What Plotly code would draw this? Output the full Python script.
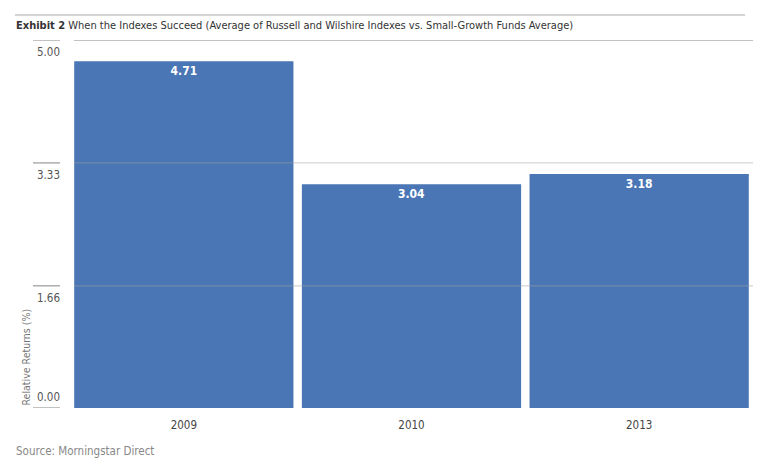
import plotly.graph_objects as go

years = ["2009", "2010", "2013"]
values = [4.71, 3.04, 3.18]
tick_vals = [0.0, 1.66, 3.33, 5.00]
tick_text = ["0.00", "1.66", "3.33", "5.00"]

FONT = "DejaVu Sans Condensed, Liberation Sans Narrow, Roboto, sans-serif"
BAR = "#4a76b5"

# page has an 8px body margin; figure is sized/offset to compensate
W, H = 759, 465
L, R, T, B = 62, 14, 32, 65
PW, PH = W - L - R, H - T - B


def px(xf):
    return (xf - L) / PW


def py(yf):
    return (H - B - yf) / PH


fig = go.Figure()
fig.add_trace(go.Bar(
    x=years, y=values, marker=dict(color=BAR, line=dict(width=0)),
    text=[f"{v:.2f}" for v in values], textposition="inside",
    insidetextanchor="end",
    textfont=dict(family=FONT, size=12, color="white", weight="bold"),
    hoverinfo="skip",
))

shapes = []
annotations = []
for v, t in zip(tick_vals, tick_text):
    col = "rgba(120,120,120,0.9)" if v == 5.0 else "rgba(160,160,160,0.45)"
    if v > 0:
        shapes.append(dict(type="line", xref="paper", yref="y", x0=px(66), x1=1, y0=v, y1=v,
                           line=dict(color=col, width=1.2), layer="above"))
    shapes.append(dict(type="line", xref="paper", yref="y", x0=px(25), x1=px(52), y0=v, y1=v,
                       line=dict(color="#999", width=1.2)))
    annotations.append(dict(xref="paper", yref="y", x=px(54), y=v, text=t, showarrow=False,
                            xanchor="right", yanchor="bottom" if v == 0 else "top",
                            yshift=2 if v == 0 else -3,
                            font=dict(family=FONT, size=11.5, color="#555")))
# top rule
shapes.append(dict(type="line", xref="paper", yref="paper", x0=px(7), x1=px(737), y0=py(7), y1=py(7),
                   line=dict(color="#aaa", width=1.2)))

annotations.append(dict(xref="paper", yref="paper", x=px(6), y=py(17), xanchor="left", yanchor="middle",
                        text="<b>Exhibit 2</b> When the Indexes Succeed (Average of Russell and Wilshire Indexes vs. Small-Growth Funds Average)",
                        showarrow=False, font=dict(family=FONT, size=11, color="#333")))
annotations.append(dict(xref="paper", yref="paper", x=px(17), y=0, xanchor="center", yanchor="bottom",
                        text="Relative Returns (%)", textangle=-90, showarrow=False,
                        font=dict(family=FONT, size=10.5, color="#777")))
annotations.append(dict(xref="paper", yref="paper", x=px(6), y=py(443), xanchor="left", yanchor="middle",
                        text="Source: Morningstar Direct", showarrow=False,
                        font=dict(family=FONT, size=11.5, color="#888")))

fig.update_layout(
    width=W, height=H, margin=dict(l=L, r=R, t=T, b=B),
    paper_bgcolor="white", plot_bgcolor="white", showlegend=False,
    bargap=0.037,
    xaxis=dict(showgrid=False, showline=False, ticks="", ticklabelstandoff=8,
               tickfont=dict(family=FONT, size=11.5, color="#444")),
    yaxis=dict(range=[0, 5], showgrid=False, zeroline=False, showticklabels=False, ticks=""),
    shapes=shapes, annotations=annotations,
    font=dict(family=FONT),
)
fig.write_html("out.html")
